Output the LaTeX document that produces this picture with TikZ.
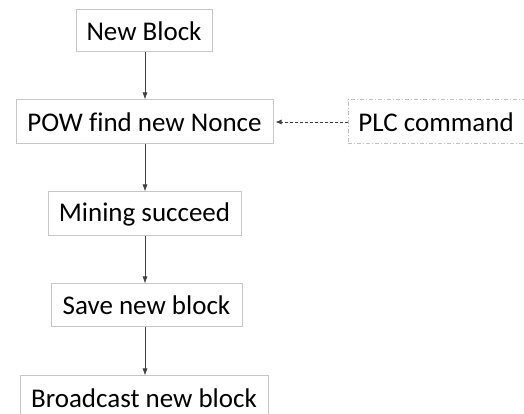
\documentclass[tikz,border=0pt]{standalone}
\usepackage{fontspec}
\setmainfont[Ligatures=NoCommon]{Carlito}
\usetikzlibrary{arrows.meta}
\begin{document}
\begin{tikzpicture}[x=1pt,y=1pt,
  box/.style={draw=black!22,line width=1pt,fill=white,inner sep=0pt,
    font=\fontsize{27}{30}\selectfont,text=black},
  plcbox/.style={box,draw=black!25,dash pattern=on 4pt off 2pt on 1pt off 2pt},
  flow/.style={draw=black!75,line width=0.8pt,-{Latex[length=7pt,width=5pt]}},
  cmd/.style={draw=black!75,line width=0.8pt,dash pattern=on 3pt off 2pt,-{Latex[length=6pt,width=5pt]}}]
\useasboundingbox (0,0) rectangle (524,414);
\clip (0,0) rectangle (524,414);
\fill[white] (0,0) rectangle (524,414);
% process steps, top to bottom
\node[box,minimum width=136pt,minimum height=42pt] (nb) at (144,383) {New Block};
\node[box,minimum width=257pt,minimum height=44pt] (pow) at (144.5,292) {POW find new Nonce};
\node[plcbox,minimum width=184pt,minimum height=44pt] (plc) at (440,292) {\hspace*{-8pt}PLC command};
\node[box,minimum width=193pt,minimum height=44pt] (mine) at (144.5,200) {Mining succeed};
\node[box,minimum width=191pt,minimum height=43pt] (save) at (146.5,108.5) {Save new block};
\node[box,minimum width=248pt,minimum height=44pt] (bc) at (144,16) {Broadcast new block};
% vertical axis of the flow arrows
\coordinate (ax) at (145,0);
\draw[flow] (nb.south -| ax) -- (pow.north -| ax);
\draw[flow] (pow.south -| ax) -- (mine.north -| ax);
\draw[flow] (mine.south -| ax) -- (save.north -| ax);
\draw[flow] (save.south -| ax) -- (bc.north -| ax);
% external command into the nonce search
\draw[cmd] (plc.west) -- ([xshift=2pt]pow.east);
\end{tikzpicture}
\end{document}
